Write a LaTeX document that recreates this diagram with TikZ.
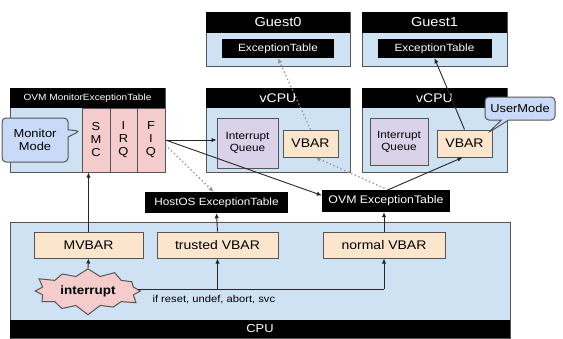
\documentclass[tikz,border=0pt]{standalone}
\usepackage{fontspec}
\setmainfont{Liberation Sans}[FakeStretch=1.12]
\usetikzlibrary{shapes.symbols,shapes.callouts,arrows.meta}
\definecolor{lblue}{HTML}{CFE2F3}
\definecolor{pinkc}{HTML}{F4CCCC}
\definecolor{peach}{HTML}{FCE5CD}
\definecolor{lilac}{HTML}{D9D2E9}
\definecolor{callb}{HTML}{C9DAF8}
\definecolor{edge}{HTML}{555555}
\newcommand{\fs}[1]{\fontsize{#1}{#1}\selectfont}
\begin{document}
\begin{tikzpicture}[x=1pt,y=-1pt,
  box/.style={draw=edge, line width=1pt, inner sep=0pt, align=center},
  panel/.style={box, fill=lblue},
  bar/.style={fill=black, text=white, inner sep=0pt, align=center},
  reg/.style={box, fill=peach, font=\fs{12.5}},
  col/.style={box, fill=pinkc, font=\fontsize{11.5}{13}\selectfont},
  queue/.style={box, fill=lilac, font=\fontsize{10.5}{12}\selectfont},
  call/.style={rectangle callout, rounded corners=4pt, draw=edge, line width=1pt, fill=callb, align=center, inner sep=1pt},
  arr/.style={-{Latex[length=5pt,width=4.5pt]}, line width=0.9pt, draw=black!85},
  dotarr/.style={-{Latex[length=5pt,width=4.5pt]}, line width=1.3pt, draw=gray!85, dash pattern=on 1.3pt off 2.6pt},
  tfont/.style={font=\fs{10.5}}
]
\useasboundingbox (0,0) rectangle (563,338);

% Guests
\node[panel, minimum width=144pt, minimum height=54pt] (g0) at (278,39) {};
\node[bar, minimum width=144pt, minimum height=21pt, font=\fs{13}] (g0h) at (278,22.5) {Guest0};
\node[bar, tfont, minimum width=112pt, minimum height=19pt] (g0et) at (278,48.5) {ExceptionTable};

\node[panel, minimum width=145pt, minimum height=54pt] (g1) at (434.5,39) {};
\node[bar, minimum width=145pt, minimum height=21pt, font=\fs{13}] (g1h) at (434.5,22.5) {Guest1};
\node[bar, tfont, minimum width=114pt, minimum height=19pt] (g1et) at (434.5,48.5) {ExceptionTable};

% vCPUs
\node[panel, minimum width=144pt, minimum height=84pt] (v0) at (278,130) {};
\node[bar, minimum width=144pt, minimum height=20pt, font=\fs{12.5}] (v0h) at (278,98) {vCPU};
\node[queue, minimum width=61pt, minimum height=50pt] (iq0) at (247.5,143) {Interrupt\\Queue};
\node[reg, minimum width=55pt, minimum height=27pt] (vb0) at (310.5,143.5) {VBAR};

\node[panel, minimum width=145pt, minimum height=84pt] (v1) at (434.5,130) {};
\node[bar, minimum width=145pt, minimum height=20pt, font=\fs{12.5}] (v1h) at (434.5,98) {vCPU};
\node[queue, minimum width=58pt, minimum height=47pt] (iq1) at (399,141.5) {Interrupt\\Queue};
\node[reg, minimum width=55pt, minimum height=27pt] (vb1) at (464.5,143.5) {VBAR};

\node[call, minimum width=70pt, minimum height=23pt, font=\fs{11.5}, callout absolute pointer={(488,133)}] (um) at (520,108.5) {UserMode};

% Monitor exception table
\node[panel, minimum width=155pt, minimum height=84pt] (mt) at (87.5,130) {};
\node[bar, minimum width=155pt, minimum height=20pt, font=\fs{9}] (mth) at (87.5,98) {OVM MonitorExceptionTable};
\node[col, minimum width=28pt, minimum height=64pt] (smc) at (96,140) {S\\M\\C};
\node[col, minimum width=27pt, minimum height=64pt] (irq) at (123.5,140) {I\\R\\Q};
\node[col, minimum width=28pt, minimum height=64pt] (fiq) at (151,140) {F\\I\\Q};
\node[call, minimum width=66pt, minimum height=44pt, font=\fontsize{11.5}{13.5}\selectfont, callout absolute pointer={(80,131)}] (mm) at (35,140) {Monitor\\Mode};

% Exception tables
\node[bar, tfont, minimum width=143pt, minimum height=21pt] (hos) at (216.5,202.5) {HostOS ExceptionTable};
\node[bar, font=\fs{11}, minimum width=128pt, minimum height=22pt] (ovm) at (386,201) {OVM ExceptionTable};

% CPU
\node[panel, minimum width=500pt, minimum height=116pt] (cpu) at (260,280) {};
\node[bar, minimum width=500pt, minimum height=18pt, font=\fs{11.5}] (cpuh) at (260,329) {CPU};
\node[reg, minimum width=109pt, minimum height=26pt] (mvbar) at (88.5,245) {MVBAR};
\node[reg, minimum width=121pt, minimum height=26pt] (tvbar) at (217.5,245) {trusted VBAR};
\node[reg, minimum width=122pt, minimum height=26pt] (nvbar) at (384,245) {normal VBAR};
\node[starburst, draw=edge, line width=1pt, fill=pinkc, minimum width=114pt, minimum height=50pt, inner sep=0pt,
      starburst points=12, starburst point height=10pt, font=\bfseries\fs{12}] (intr) at (88,291) {interrupt};
\node[anchor=west, font=\fs{10}] (cond) at (149,300) {if reset, undef, abort, svc};
\coordinate (jt) at (217.5,289);
\coordinate (jn) at (384,289);

% connectors
\draw[arr] (intr.north) -- (mvbar.south);
\draw[line width=0.9pt, draw=black!85] (138,289) -- (jn);
\draw[arr] (jn) -- (nvbar.south);
\draw[arr] (jt) -- (tvbar.south);
\draw[arr] (mvbar.north) -- (mvbar.north |- smc.south);
\draw[arr] (tvbar.north) -- (hos.south);
\draw[arr] (nvbar.north) -- (nvbar.north |- ovm.south);
\draw[arr] (fiq.east) -- (fiq.east -| iq0.west);
\draw[arr] (fiq.east) -- (ovm.175);
\draw[dotarr] ([yshift=-5pt]fiq.east) -- ([xshift=-3pt]hos.north);
\draw[dotarr] ([xshift=2pt]ovm.north) -- ([xshift=5pt]vb0.south);
\draw[arr] ([xshift=2pt]ovm.north) -- ([xshift=-2pt]vb1.south);
\draw[dotarr] (vb0.north) -- (g0et.south);
\draw[arr] (vb1.north) -- (g1et.south);
\end{tikzpicture}
\end{document}
